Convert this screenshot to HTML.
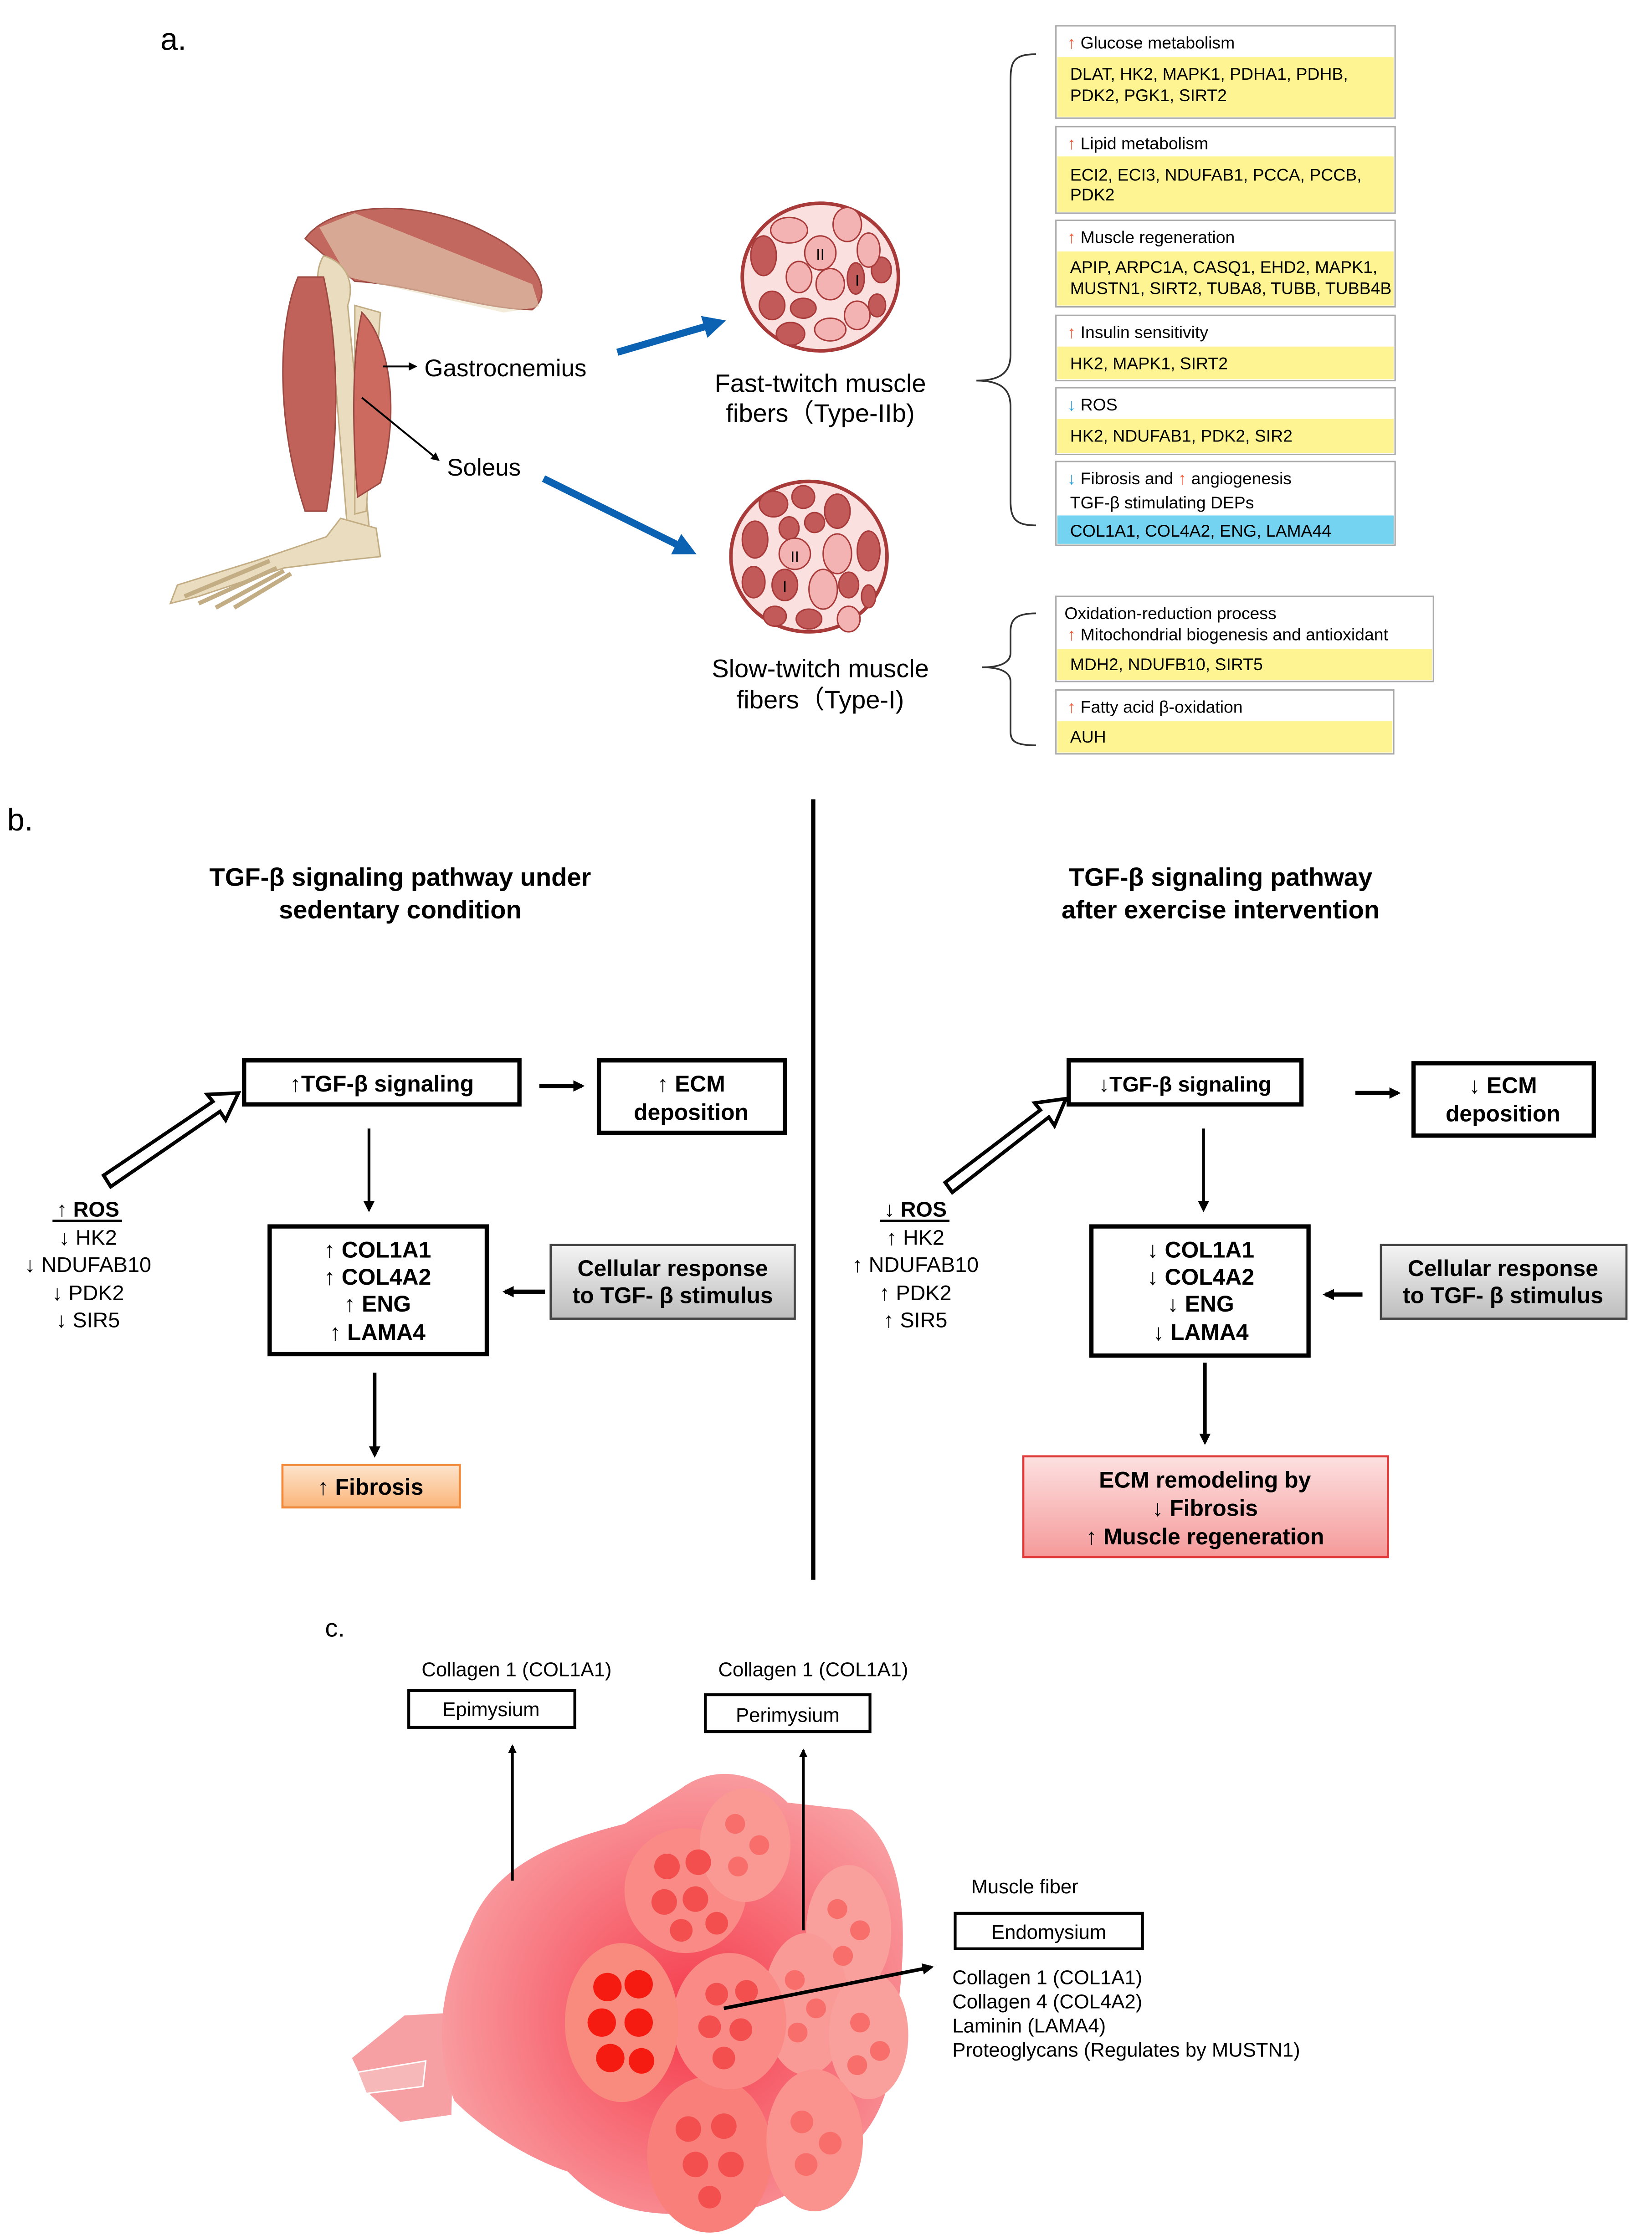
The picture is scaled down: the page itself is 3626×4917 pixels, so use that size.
<!DOCTYPE html>
<html><head><meta charset="utf-8"><style>
html,body{margin:0;padding:0;background:#fff;}
svg{display:block;}
text{font-family:"Liberation Sans",sans-serif;}
</style></head><body>
<svg width="3626" height="4917" viewBox="0 0 1164 1578" xmlns="http://www.w3.org/2000/svg">
<defs>
<marker id="ah" markerWidth="8" markerHeight="8" refX="6" refY="4" orient="auto" markerUnits="userSpaceOnUse"><path d="M0,0 L8,4 L0,8 z" fill="#000"/></marker>
<marker id="ahs" markerWidth="6" markerHeight="6" refX="5" refY="3" orient="auto" markerUnits="userSpaceOnUse"><path d="M0,0 L6,3 L0,6 z" fill="#000"/></marker>
<marker id="bah" markerWidth="16" markerHeight="16" refX="4" refY="8" orient="auto" markerUnits="userSpaceOnUse"><path d="M0,0 L16,8 L0,16 z" fill="#0b62b3"/></marker>
<linearGradient id="gray" x1="0" y1="0" x2="0" y2="1"><stop offset="0" stop-color="#f4f4f4"/><stop offset="1" stop-color="#bdbdbd"/></linearGradient>
<linearGradient id="org" x1="0" y1="0" x2="0" y2="1"><stop offset="0" stop-color="#fde4cc"/><stop offset="1" stop-color="#fbb57a"/></linearGradient>
<linearGradient id="pnk" x1="0" y1="0" x2="0" y2="1"><stop offset="0" stop-color="#fde0e0"/><stop offset="1" stop-color="#f59a9a"/></linearGradient>
<radialGradient id="body" cx="0.55" cy="0.55" r="0.6"><stop offset="0" stop-color="#f5394a"/><stop offset="1" stop-color="#f9a3a6"/></radialGradient>
</defs>

<!-- ===== a ===== -->
<text x="113" y="35" font-size="22">a.</text>

<!-- leg -->
<path d="M215,168 C235,140 300,140 345,165 C375,180 392,205 375,218 C340,218 290,200 250,198 Z" fill="#c2685f" stroke="#9c4a42" stroke-width="1"/>
<path d="M225,160 L250,150 L375,200 L380,216 L355,220 L245,195 Z" fill="#eadcbe" opacity="0.55"/>
<path d="M228,180 C245,185 250,200 245,215 L260,370 L245,375 L232,215 C222,205 222,190 228,180Z" fill="#eadcbe" stroke="#c2ad85" stroke-width="1"/>
<path d="M250,215 L268,220 L258,360 L250,362 Z" fill="#eadcbe" stroke="#c2ad85" stroke-width="1"/>
<path d="M210,195 C195,230 195,300 215,360 L230,360 C240,300 238,240 228,195 Z" fill="#c0625a" stroke="#9c4a42"/>
<path d="M255,220 C275,240 282,290 268,340 L252,350 C248,300 248,250 255,220 Z" fill="#cc6a60" stroke="#9c4a42"/>
<path d="M240,365 L265,372 L268,392 L240,395 L200,400 L140,420 L120,425 L125,412 L180,395 L230,378 Z" fill="#eadcbe" stroke="#c2ad85"/>
<path d="M190,395 L130,420 M195,400 L140,425 M200,402 L152,428 M205,404 L165,428" stroke="#c2ad85" stroke-width="3"/>
<text x="299" y="265" font-size="17">Gastrocnemius</text>
<line x1="270" y1="258" x2="293" y2="258" stroke="#000" stroke-width="1.3" marker-end="url(#ahs)"/>
<text x="315" y="335" font-size="17">Soleus</text>
<line x1="255" y1="280" x2="309" y2="324" stroke="#000" stroke-width="1.3" marker-end="url(#ahs)"/>

<line x1="435" y1="248" x2="500" y2="229" stroke="#0b62b3" stroke-width="5" marker-end="url(#bah)"/>
<line x1="383" y1="337" x2="480" y2="385" stroke="#0b62b3" stroke-width="5" marker-end="url(#bah)"/>

<!-- fiber circles -->
<g>
<ellipse cx="578" cy="195" rx="55" ry="52" fill="#fbe0e0" stroke="#a83a3a" stroke-width="2.5"/>
<g fill="#c25a5a" stroke="#a83a3a" stroke-width="1">
<ellipse cx="538" cy="180" rx="9" ry="14"/><ellipse cx="544" cy="215" rx="9" ry="10"/><ellipse cx="566" cy="217" rx="9" ry="7"/>
<ellipse cx="557" cy="235" rx="10" ry="8"/><ellipse cx="603" cy="196" rx="6" ry="11"/><ellipse cx="621" cy="190" rx="7" ry="9"/>
<ellipse cx="618" cy="215" rx="6" ry="8"/>
</g>
<g fill="#f4b3b3" stroke="#a83a3a" stroke-width="1">
<ellipse cx="556" cy="162" rx="13" ry="9"/><ellipse cx="597" cy="158" rx="10" ry="12"/><ellipse cx="578" cy="178" rx="11" ry="12"/>
<ellipse cx="563" cy="195" rx="9" ry="11"/><ellipse cx="585" cy="200" rx="10" ry="11"/><ellipse cx="612" cy="176" rx="8" ry="12"/>
<ellipse cx="604" cy="222" rx="9" ry="10"/><ellipse cx="585" cy="232" rx="11" ry="8"/>
</g>
<text x="578" y="183" font-size="11" text-anchor="middle">II</text>
<text x="604" y="201" font-size="11" text-anchor="middle">I</text>
</g>
<g>
<ellipse cx="570" cy="392" rx="55" ry="53" fill="#fbe0e0" stroke="#a83a3a" stroke-width="2.5"/>
<g fill="#c25a5a" stroke="#a83a3a" stroke-width="1">
<ellipse cx="545" cy="355" rx="10" ry="9"/><ellipse cx="566" cy="350" rx="8" ry="8"/><ellipse cx="590" cy="360" rx="9" ry="12"/>
<ellipse cx="532" cy="380" rx="9" ry="13"/><ellipse cx="556" cy="372" rx="7" ry="8"/><ellipse cx="574" cy="368" rx="7" ry="7"/>
<ellipse cx="612" cy="388" rx="8" ry="14"/><ellipse cx="531" cy="410" rx="8" ry="11"/><ellipse cx="553" cy="412" rx="9" ry="11"/>
<ellipse cx="598" cy="412" rx="7" ry="9"/><ellipse cx="546" cy="434" rx="8" ry="7"/><ellipse cx="570" cy="436" rx="9" ry="7"/><ellipse cx="612" cy="420" rx="5" ry="8"/>
</g>
<g fill="#f4b3b3" stroke="#a83a3a" stroke-width="1">
<ellipse cx="560" cy="390" rx="11" ry="11"/><ellipse cx="590" cy="390" rx="10" ry="14"/><ellipse cx="580" cy="415" rx="10" ry="14"/><ellipse cx="598" cy="436" rx="8" ry="9"/>
</g>
<text x="560" y="396" font-size="11" text-anchor="middle">II</text>
<text x="553" y="417" font-size="11" text-anchor="middle">I</text>
</g>
<text x="578" y="276" font-size="18" text-anchor="middle">Fast-twitch muscle</text>
<text x="578" y="297" font-size="18" text-anchor="middle">fibers（Type-IIb)</text>
<text x="578" y="477" font-size="18" text-anchor="middle">Slow-twitch muscle</text>
<text x="578" y="499" font-size="18" text-anchor="middle">fibers（Type-I)</text>

<!-- braces -->
<path d="M730,38 C712,38 712,45 712,60 L712,250 C712,262 705,268 688,268 C705,268 712,274 712,286 L712,352 C712,365 715,370 730,370" fill="none" stroke="#333" stroke-width="1.2"/>
<path d="M730,432 C715,432 712,437 712,445 L712,460 C712,466 706,470 692,470 C706,470 712,474 712,480 L712,515 C712,522 715,525 730,525" fill="none" stroke="#333" stroke-width="1.2"/>

<!-- gene boxes -->
<g font-size="12">
<rect x="744" y="18" width="239" height="65" fill="#fff" stroke="#aaa"/><rect x="745" y="40" width="237" height="42" fill="#fef592"/>
<text x="752" y="34"><tspan fill="#f25c3a">↑</tspan> Glucose metabolism</text>
<text x="754" y="56">DLAT, HK2, MAPK1, PDHA1, PDHB,</text><text x="754" y="71">PDK2, PGK1, SIRT2</text>

<rect x="744" y="89" width="239" height="61" fill="#fff" stroke="#aaa"/><rect x="745" y="110" width="237" height="39" fill="#fef592"/>
<text x="752" y="105"><tspan fill="#f25c3a">↑</tspan> Lipid metabolism</text>
<text x="754" y="127">ECI2, ECI3, NDUFAB1, PCCA, PCCB,</text><text x="754" y="141">PDK2</text>

<rect x="744" y="155" width="239" height="61" fill="#fff" stroke="#aaa"/><rect x="745" y="177" width="237" height="38" fill="#fef592"/>
<text x="752" y="171"><tspan fill="#f25c3a">↑</tspan>  Muscle regeneration</text>
<text x="754" y="192">APIP, ARPC1A, CASQ1, EHD2,  MAPK1,</text><text x="754" y="207">MUSTN1, SIRT2, TUBA8, TUBB, TUBB4B</text>

<rect x="744" y="222" width="239" height="46" fill="#fff" stroke="#aaa"/><rect x="745" y="244" width="237" height="23" fill="#fef592"/>
<text x="752" y="238"><tspan fill="#f25c3a">↑</tspan>  Insulin sensitivity</text>
<text x="754" y="260">HK2, MAPK1, SIRT2</text>

<rect x="744" y="273" width="239" height="47" fill="#fff" stroke="#aaa"/><rect x="745" y="295" width="237" height="24" fill="#fef592"/>
<text x="752" y="289"><tspan fill="#29a3e0">↓</tspan>  ROS</text>
<text x="754" y="311">HK2, NDUFAB1, PDK2, SIR2</text>

<rect x="744" y="325" width="239" height="59" fill="#fff" stroke="#aaa"/><rect x="745" y="363" width="237" height="20" fill="#75d3f2"/>
<text x="752" y="341"><tspan fill="#29a3e0">↓</tspan>  Fibrosis and <tspan fill="#f25c3a">↑</tspan>  angiogenesis</text>
<text x="754" y="358">TGF-β stimulating DEPs</text>
<text x="754" y="378">COL1A1, COL4A2, ENG, LAMA44</text>

<rect x="744" y="420" width="266" height="60" fill="#fff" stroke="#aaa"/><rect x="745" y="457" width="264" height="22" fill="#fef592"/>
<text x="750" y="436">Oxidation-reduction process</text>
<text x="752" y="451"><tspan fill="#f25c3a">↑</tspan> Mitochondrial biogenesis and antioxidant</text>
<text x="754" y="472">MDH2, NDUFB10, SIRT5</text>

<rect x="744" y="486" width="238" height="45" fill="#fff" stroke="#aaa"/><rect x="745" y="508" width="236" height="22" fill="#fef592"/>
<text x="752" y="502"><tspan fill="#f25c3a">↑</tspan>  Fatty acid β-oxidation</text>
<text x="754" y="523">AUH</text>
</g>

<!-- ===== b ===== -->
<text x="5" y="585" font-size="22">b.</text>
<line x1="573" y1="563" x2="573" y2="1113" stroke="#000" stroke-width="3"/>
<g font-size="18" font-weight="bold" text-anchor="middle">
<text x="282" y="624">TGF-β signaling pathway under</text><text x="282" y="647">sedentary condition</text>
<text x="860" y="624">TGF-β signaling pathway</text><text x="860" y="647">after exercise intervention</text>
</g>

<g font-size="16" font-weight="bold" text-anchor="middle">
<!-- left -->
<rect x="172" y="747" width="194" height="31" fill="#fff" stroke="#000" stroke-width="3"/>
<text x="269" y="769">↑TGF-β signaling</text>
<line x1="380" y1="765" x2="410" y2="765" stroke="#000" stroke-width="3" marker-end="url(#ah)"/>
<rect x="422" y="747" width="131" height="51" fill="#fff" stroke="#000" stroke-width="3"/>
<text x="487" y="769">↑ ECM</text><text x="487" y="789">deposition</text>
<line x1="260" y1="795" x2="260" y2="852" stroke="#000" stroke-width="2" marker-end="url(#ah)"/>
<rect x="190" y="864" width="153" height="90" fill="#fff" stroke="#000" stroke-width="3"/>
<text x="266" y="886">↑ COL1A1</text><text x="266" y="905">↑ COL4A2</text><text x="266" y="924">↑ ENG</text><text x="266" y="944">↑ LAMA4</text>
<rect x="388" y="877" width="172" height="52" fill="url(#gray)" stroke="#444" stroke-width="1.5"/>
<text x="474" y="899">Cellular response</text><text x="474" y="918">to TGF- β stimulus</text>
<line x1="384" y1="910" x2="356" y2="910" stroke="#000" stroke-width="3" marker-end="url(#ah)"/>
<line x1="264" y1="967" x2="264" y2="1025" stroke="#000" stroke-width="2.5" marker-end="url(#ah)"/>
<rect x="199" y="1032" width="125" height="30" fill="url(#org)" stroke="#f08a3a" stroke-width="1.5"/>
<text x="261" y="1053">↑ Fibrosis</text>

<!-- right -->
<rect x="753" y="747" width="164" height="31" fill="#fff" stroke="#000" stroke-width="3"/>
<text x="835" y="769" font-size="15">↓TGF-β signaling</text>
<line x1="955" y1="770" x2="985" y2="770" stroke="#000" stroke-width="3" marker-end="url(#ah)"/>
<rect x="996" y="749" width="127" height="51" fill="#fff" stroke="#000" stroke-width="3"/>
<text x="1059" y="770">↓ ECM</text><text x="1059" y="790">deposition</text>
<line x1="848" y1="795" x2="848" y2="852" stroke="#000" stroke-width="2" marker-end="url(#ah)"/>
<rect x="769" y="864" width="153" height="91" fill="#fff" stroke="#000" stroke-width="3"/>
<text x="846" y="886">↓ COL1A1</text><text x="846" y="905">↓ COL4A2</text><text x="846" y="924">↓ ENG</text><text x="846" y="944">↓ LAMA4</text>
<rect x="973" y="877" width="173" height="52" fill="url(#gray)" stroke="#444" stroke-width="1.5"/>
<text x="1059" y="899">Cellular response</text><text x="1059" y="918">to TGF- β stimulus</text>
<line x1="960" y1="912" x2="934" y2="912" stroke="#000" stroke-width="3" marker-end="url(#ah)"/>
<line x1="849" y1="960" x2="849" y2="1016" stroke="#000" stroke-width="2.5" marker-end="url(#ah)"/>
<rect x="721" y="1026" width="257" height="71" fill="url(#pnk)" stroke="#e03a3a" stroke-width="1.5"/>
<text x="849" y="1048">ECM remodeling by</text><text x="849" y="1068">↓ Fibrosis</text><text x="849" y="1088">↑ Muscle regeneration</text>
</g>

<!-- hollow arrows -->
<g fill="#fff" stroke="#000" stroke-width="2.5" stroke-linejoin="miter">
<path d="M73,828 L150,776 L146,771 L168,770 L159,789 L155,783 L78,836 Z"/>
<path d="M666,833 L733,782 L729,777 L751,774 L743,793 L739,787 L671,840 Z"/>
</g>

<g font-size="15" text-anchor="middle">
<text x="62" y="857" font-weight="bold">↑ ROS</text><line x1="37" y1="860" x2="86" y2="860" stroke="#000" stroke-width="1.5"/>
<text x="62" y="877">↓ HK2</text><text x="62" y="896">↓ NDUFAB10</text><text x="62" y="916">↓ PDK2</text><text x="62" y="935">↓ SIR5</text>
<text x="645" y="857" font-weight="bold">↓ ROS</text><line x1="620" y1="860" x2="669" y2="860" stroke="#000" stroke-width="1.5"/>
<text x="645" y="877">↑ HK2</text><text x="645" y="896">↑ NDUFAB10</text><text x="645" y="916">↑ PDK2</text><text x="645" y="935">↑ SIR5</text>
</g>

<!-- ===== c ===== -->
<text x="229" y="1153" font-size="18">c.</text>
<g font-size="14">
<text x="364" y="1181" text-anchor="middle">Collagen 1 (COL1A1)</text>
<rect x="288" y="1191" width="117" height="26" fill="#fff" stroke="#000" stroke-width="2"/>
<text x="346" y="1209" text-anchor="middle">Epimysium</text>
<text x="573" y="1181" text-anchor="middle">Collagen 1 (COL1A1)</text>
<rect x="497" y="1194" width="116" height="26" fill="#fff" stroke="#000" stroke-width="2"/>
<text x="555" y="1213" text-anchor="middle">Perimysium</text>
<text x="722" y="1334" text-anchor="middle">Muscle fiber</text>
<rect x="673" y="1348" width="132" height="25" fill="#fff" stroke="#000" stroke-width="2"/>
<text x="739" y="1366" text-anchor="middle">Endomysium</text>
<text x="671" y="1398">Collagen 1 (COL1A1)</text>
<text x="671" y="1415">Collagen 4 (COL4A2)</text>
<text x="671" y="1432">Laminin (LAMA4)</text>
<text x="671" y="1449">Proteoglycans (Regulates by MUSTN1)</text>
</g>

<!-- muscle bundle -->
<path d="M248,1450 L285,1420 L320,1418 L318,1490 L282,1495 L260,1475 Z" fill="#f6a0a4"/>
<path d="M252,1460 L300,1452 L298,1470 L258,1475 Z" fill="#f7b8b9" stroke="#fff" stroke-width="1"/>
<path d="M330,1360 C345,1320 380,1300 440,1285 L480,1260 C500,1245 530,1245 555,1270 L600,1275 C640,1300 640,1360 632,1420 C630,1470 620,1500 590,1520 C560,1550 520,1565 480,1560 C440,1560 420,1550 400,1530 C370,1520 340,1500 320,1480 C305,1440 310,1400 330,1360 Z" fill="url(#body)"/>
<g>
<ellipse cx="483" cy="1332" rx="43" ry="44" fill="#f98a86"/>
<ellipse cx="525" cy="1300" rx="32" ry="40" fill="#fa9894"/>
<ellipse cx="598" cy="1360" rx="30" ry="46" fill="#faa09c"/>
<ellipse cx="568" cy="1412" rx="30" ry="50" fill="#fa9a96"/>
<ellipse cx="612" cy="1434" rx="28" ry="45" fill="#faa09c"/>
<ellipse cx="500" cy="1518" rx="44" ry="55" fill="#f97f7a"/>
<ellipse cx="574" cy="1508" rx="34" ry="50" fill="#fa928e"/>
<ellipse cx="514" cy="1424" rx="40" ry="48" fill="#f98a86"/>
<ellipse cx="438" cy="1425" rx="40" ry="56" fill="#f88a7e"/>
</g>
<g fill="#f44f4f">
<circle cx="470" cy="1315" r="9"/><circle cx="492" cy="1312" r="9"/><circle cx="468" cy="1340" r="9"/><circle cx="490" cy="1338" r="9"/><circle cx="505" cy="1355" r="8"/><circle cx="480" cy="1360" r="8"/>
<circle cx="505" cy="1405" r="8"/><circle cx="526" cy="1403" r="8"/><circle cx="500" cy="1428" r="8"/><circle cx="522" cy="1430" r="8"/><circle cx="510" cy="1450" r="8"/>
<circle cx="485" cy="1500" r="9"/><circle cx="510" cy="1498" r="9"/><circle cx="490" cy="1525" r="9"/><circle cx="515" cy="1525" r="9"/><circle cx="500" cy="1548" r="8"/>
</g>
<g fill="#f86e6a">
<circle cx="518" cy="1285" r="7"/><circle cx="535" cy="1300" r="7"/><circle cx="520" cy="1315" r="7"/>
<circle cx="590" cy="1345" r="7"/><circle cx="606" cy="1360" r="7"/><circle cx="594" cy="1378" r="7"/>
<circle cx="560" cy="1395" r="7"/><circle cx="575" cy="1415" r="7"/><circle cx="562" cy="1432" r="7"/>
<circle cx="606" cy="1425" r="7"/><circle cx="620" cy="1445" r="7"/><circle cx="604" cy="1455" r="7"/>
<circle cx="565" cy="1495" r="8"/><circle cx="585" cy="1510" r="8"/><circle cx="568" cy="1525" r="8"/>
</g>
<g fill="#f51b10">
<circle cx="428" cy="1400" r="10"/><circle cx="450" cy="1398" r="10"/><circle cx="424" cy="1425" r="10"/><circle cx="450" cy="1425" r="10"/><circle cx="430" cy="1450" r="10"/><circle cx="452" cy="1452" r="9"/>
</g>

<line x1="361" y1="1325" x2="361" y2="1230" stroke="#000" stroke-width="2" marker-end="url(#ahs)"/>
<line x1="566" y1="1360" x2="566" y2="1233" stroke="#000" stroke-width="2" marker-end="url(#ahs)"/>
<line x1="510" y1="1415" x2="656" y2="1386" stroke="#000" stroke-width="2.5" marker-end="url(#ah)"/>
</svg>
</body></html>
